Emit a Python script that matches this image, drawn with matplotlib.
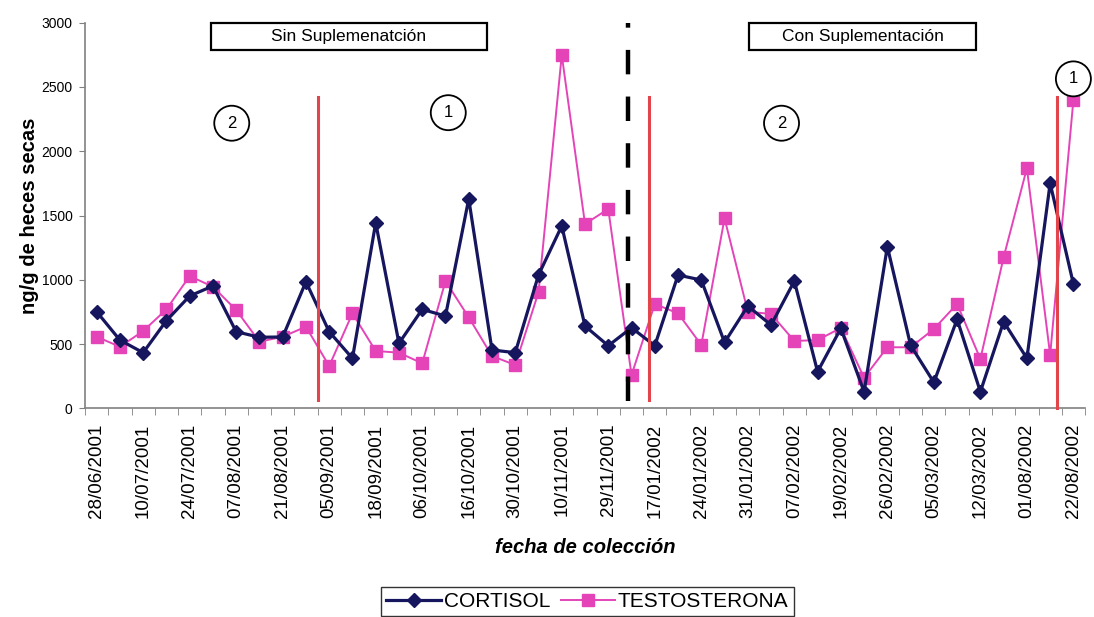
import matplotlib
matplotlib.use("Agg")
import matplotlib.pyplot as plt
from matplotlib.patches import Rectangle
import numpy as np

plt.rcParams['font.family'] = ['Liberation Sans', 'DejaVu Sans']

# every other sampling date is labelled on the axis
date_labels = ["28/06/2001", "10/07/2001", "24/07/2001", "07/08/2001", "21/08/2001",
               "05/09/2001", "18/09/2001", "06/10/2001", "16/10/2001", "30/10/2001",
               "10/11/2001", "29/11/2001", "17/01/2002", "24/01/2002", "31/01/2002",
               "07/02/2002", "19/02/2002", "26/02/2002", "05/03/2002", "12/03/2002",
               "01/08/2002", "22/08/2002"]

cortisol = [752, 531, 433, 682, 874, 952, 596, 553, 555, 985, 596, 389, 1444, 506,
            770, 718, 1629, 454, 433, 1037, 1419, 640, 487, 627, 487, 1037, 998, 513,
            796, 648, 990, 285, 622, 129, 1258, 490, 202, 693, 129, 674, 389, 1751, 967]

testosterona = [557, 479, 601, 770, 1029, 946, 765, 518, 557, 635, 329, 739, 446, 433,
                350, 990, 708, 407, 337, 903, 2749, 1434, 1551, 259, 812, 739, 493, 1478,
                752, 734, 524, 531, 625, 238, 475, 475, 617, 812, 384, 1175, 1868, 415, 2399]

# period separators (category position) and supplementation change
red_lines = [9.5, 23.76, 41.28]
red_bottom = [65, 65, 0]
dashed_line = 22.85

period_marks = [(5.81, 2218, "2"), (15.12, 2300, "1"), (29.45, 2218, "2"), (42.0, 2563, "1")]
phase_boxes = [(4.9, 16.77, "Sin Suplemenatción"), (28.06, 37.8, "Con Suplementación")]

navy = "#16165e"
pink = "#e444b8"
red = "#e2454c"
grey = "#808080"

n = len(cortisol)
x = np.arange(n)

fig = plt.figure(figsize=(10.94, 6.17), dpi=100)
ax = fig.add_axes([0.0777, 0.3382, 0.9141, 0.625])

ax.plot(x, cortisol, color=navy, lw=2.3, marker="D", ms=7.5, mfc=navy, mec=navy,
        label="CORTISOL", zorder=4)
ax.plot(x, testosterona, color=pink, lw=1.4, marker="s", ms=8, mfc=pink, mec=pink,
        label="TESTOSTERONA", zorder=3)

for xv, yb in zip(red_lines, red_bottom):
    ax.plot([xv, xv], [yb, 2423], color=red, lw=2.2, zorder=5, clip_on=False)
ax.plot([dashed_line, dashed_line], [60, 3000], color="black", lw=3.2,
        dashes=(5.5, 5.0), zorder=5, clip_on=False)

for xv, yv, t in period_marks:
    ax.text(xv, yv, t, ha="center", va="center", fontsize=12, zorder=6,
            bbox=dict(boxstyle="circle,pad=0.6", fc="white", ec="black", lw=1.3))

for x0, x1, t in phase_boxes:
    ax.add_patch(Rectangle((x0, 2788), x1 - x0, 212, fc="white", ec="black",
                           lw=1.6, clip_on=False, zorder=6))
    ax.text((x0 + x1) / 2, 2894, t, ha="center", va="center", fontsize=12.5, zorder=7)

ax.set_xlim(-0.5, n - 0.5)
ax.set_ylim(0, 3000)
ax.set_yticks(np.arange(0, 3001, 500))
ax.set_xticks(x[::2])
ax.set_xticklabels(date_labels, rotation=90, fontsize=13.5)
ax.set_xticks(np.arange(-0.5, n, 1.0), minor=True)
ax.tick_params(axis="x", which="major", length=0, pad=11)
ax.tick_params(axis="x", which="minor", length=5, color=grey, direction="out")
ax.tick_params(axis="y", length=4, color=grey, labelsize=10, pad=5)

for s in ["top", "right"]:
    ax.spines[s].set_visible(False)
for s in ["left", "bottom"]:
    ax.spines[s].set_color(grey)
    ax.spines[s].set_linewidth(1.2)

ax.set_ylabel("ng/g de heces secas", fontsize=14.5, fontweight="bold")
ax.yaxis.set_label_coords(-0.046, 0.5)
ax.set_xlabel("fecha de colección", fontsize=14.5, fontweight="bold", style="italic")
ax.xaxis.set_label_coords(0.5, -0.335)

leg = fig.legend(loc="upper center", bbox_to_anchor=(0.537, 1 - 587 / 617), ncol=2,
                 fontsize=15, frameon=True, fancybox=False, edgecolor="black",
                 handlelength=2.6, handletextpad=0.15, columnspacing=0.5,
                 borderpad=0.25, borderaxespad=0)
leg.get_frame().set_linewidth(1.0)

fig.savefig("out.png", dpi=100)
